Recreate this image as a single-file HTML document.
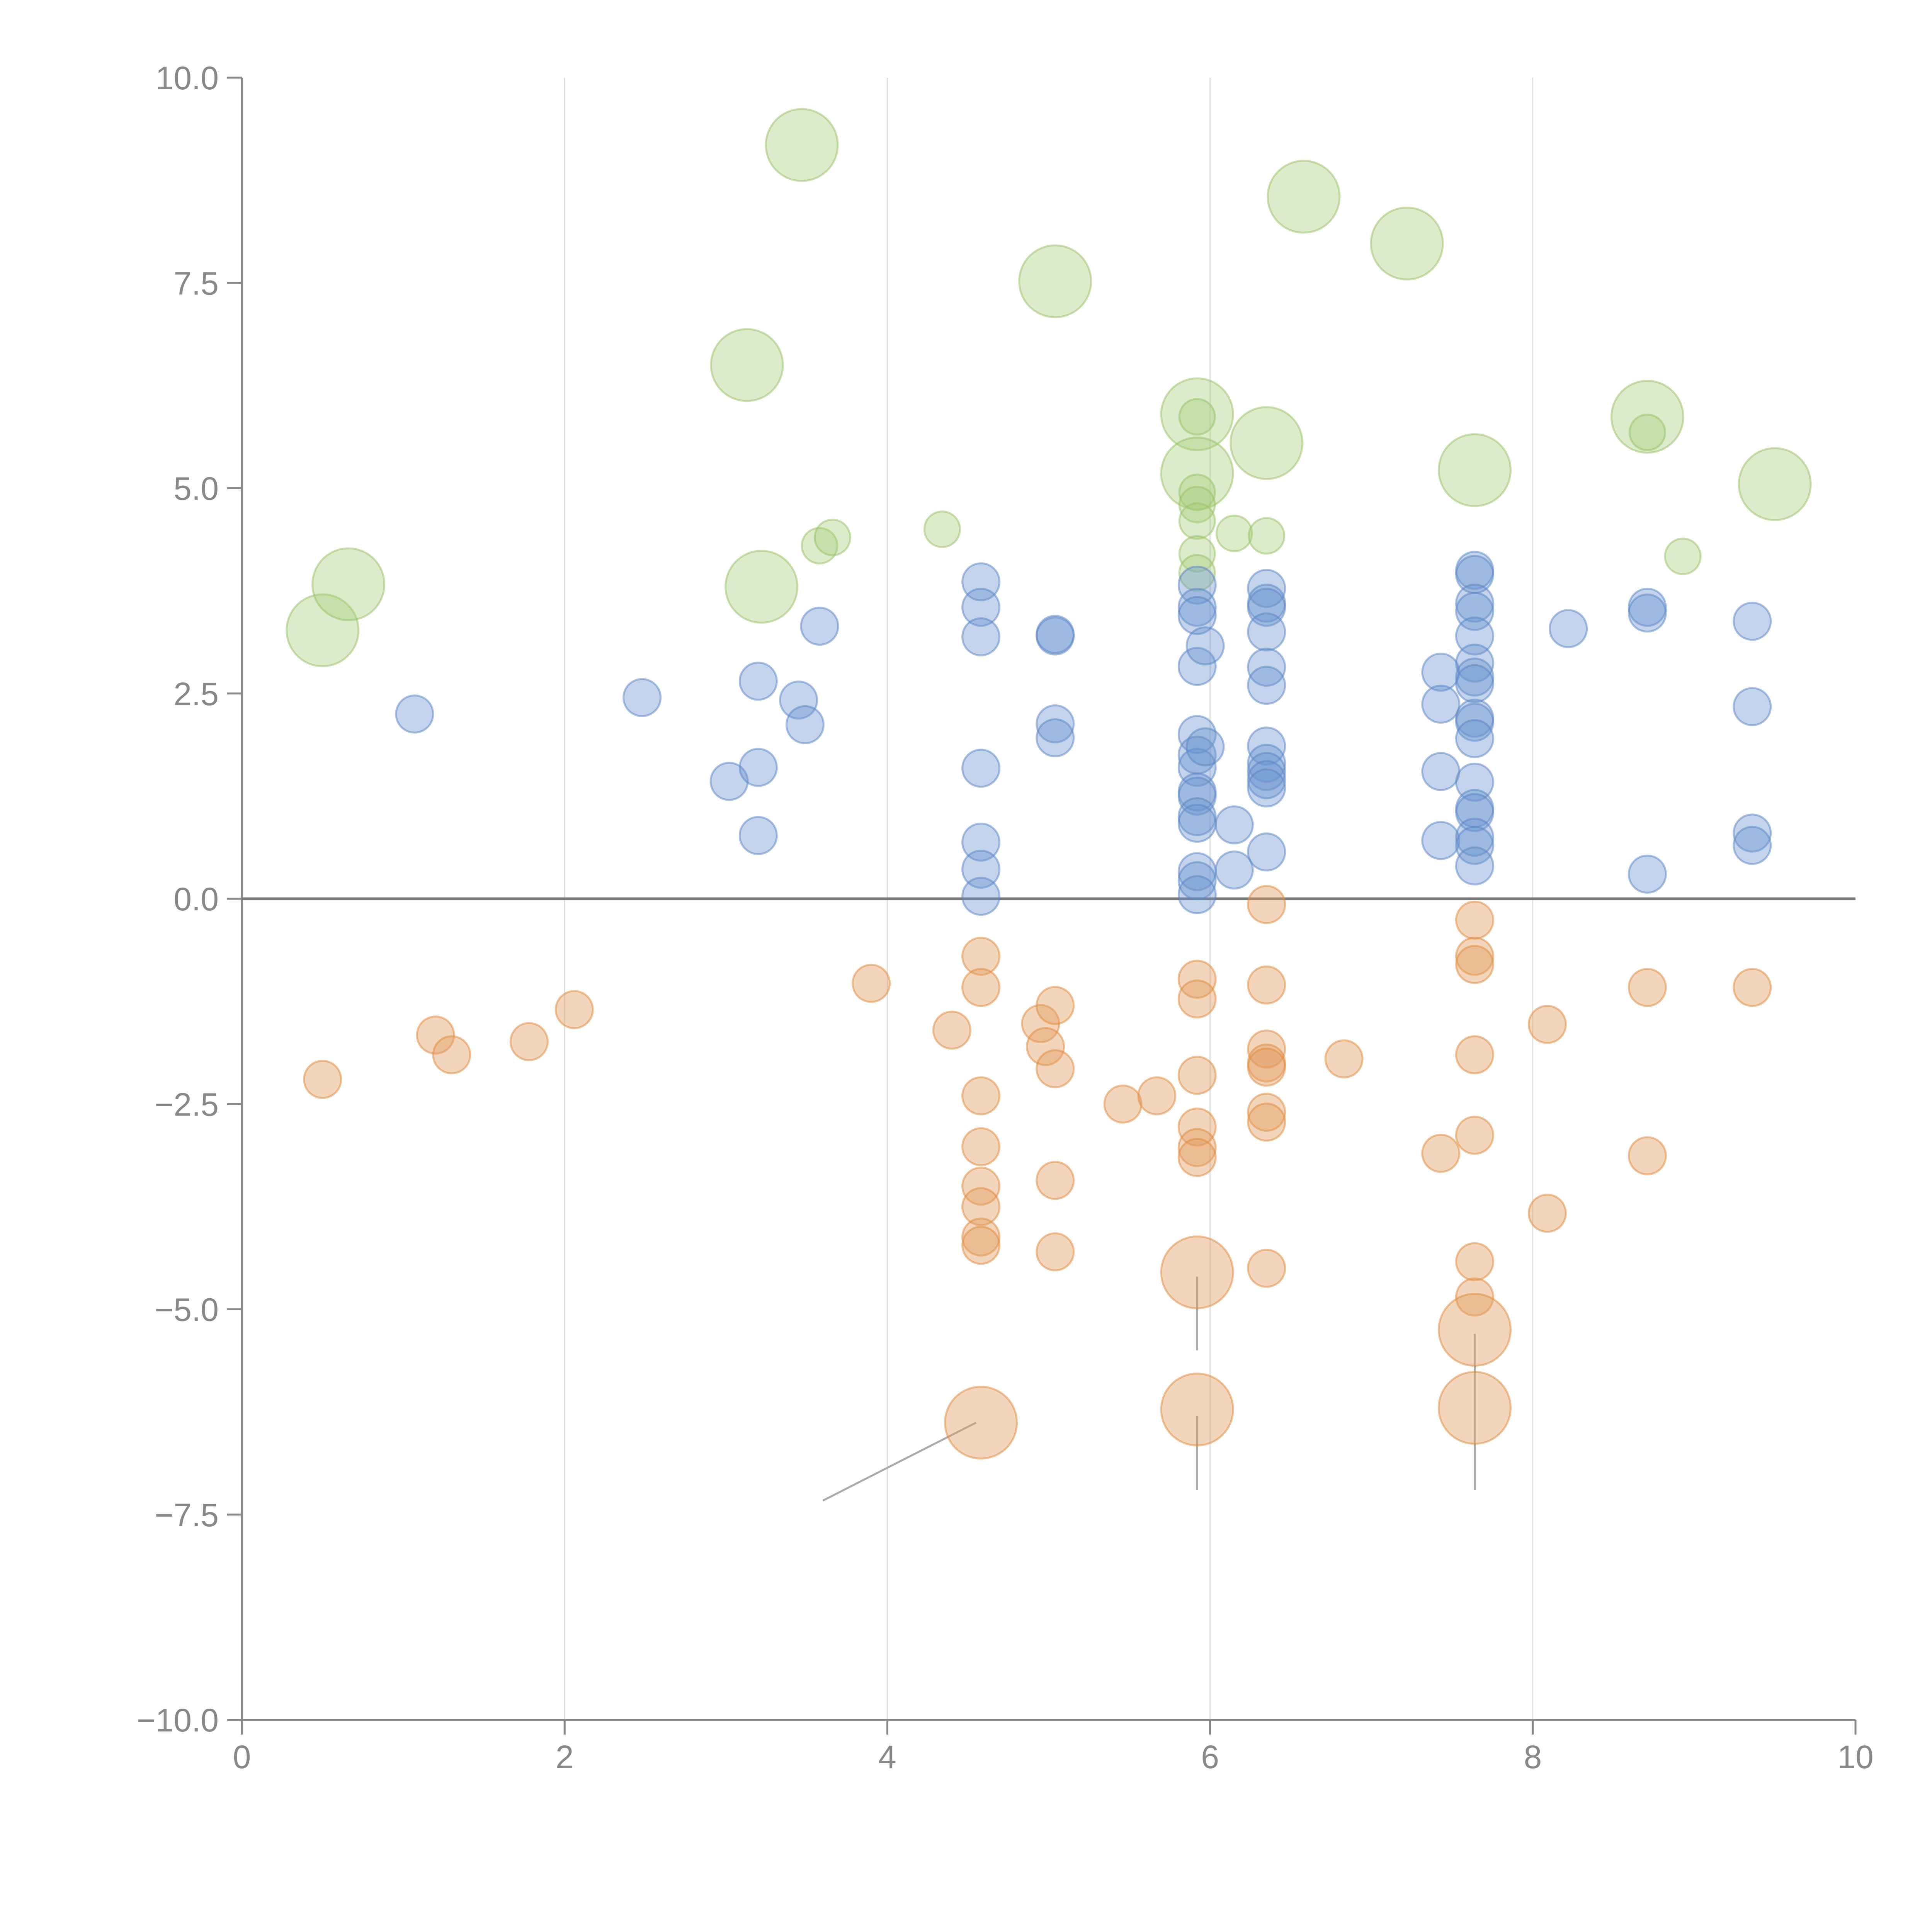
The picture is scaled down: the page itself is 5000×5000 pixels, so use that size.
<!DOCTYPE html>
<html><head><meta charset="utf-8"><style>
html,body{margin:0;padding:0;background:#fff}
svg{display:block}
text{font-family:"Liberation Sans",sans-serif;fill:#888}
</style></head><body>
<svg id="chart" width="5000" height="5000" viewBox="0 0 5000 5000">
<g id="grid"></g>
<g id="axes"></g>
<g id="leaders"></g>
<g id="marks"></g>
</svg>
<script>
const xTicks=[0,2,4,6,8,10];
const yTicks=[-10,-7.5,-5,-2.5,0,2.5,5,7.5,10];
const yTickLabels=["\u221210.0","\u22127.5","\u22125.0","\u22122.5","0.0","2.5","5.0","7.5","10.0"];
const blueX=[1.07,2.48,3.2,3.45,3.49,3.02,3.2,3.2,3.58,4.58,4.58,4.58,4.58,4.58,4.58,4.58,5.04,5.04,5.04,5.04,5.92,5.92,5.92,5.92,5.92,5.92,5.92,5.92,5.92,5.92,5.92,5.92,5.92,5.92,5.97,5.97,6.15,6.15,6.35,6.35,6.35,6.35,6.35,6.35,6.35,6.35,6.35,6.35,6.35,6.35,7.43,7.43,7.43,7.43,7.64,7.64,7.64,7.64,7.64,7.64,7.64,7.64,7.64,7.64,7.64,7.64,7.64,7.64,7.64,7.64,7.64,8.22,8.71,8.71,8.71,9.36,9.36,9.36,9.36];
const blueY=[2.25,2.45,2.65,2.42,2.12,1.43,1.6,0.77,3.32,3.86,3.55,3.19,1.59,0.69,0.36,0.03,3.2,3.22,2.13,1.96,3.82,3.55,3.45,2.83,2.0,1.75,1.6,1.3,1.25,1.0,0.92,0.33,0.22,0.05,3.08,1.85,0.9,0.35,3.78,3.6,3.55,3.25,2.82,2.6,1.86,1.65,1.55,1.45,1.35,0.57,2.76,2.37,1.55,0.71,4.0,3.95,3.6,3.5,3.2,2.87,2.7,2.62,2.2,2.15,1.95,1.42,1.1,1.05,0.75,0.65,0.4,3.29,3.55,3.48,0.3,3.38,2.34,0.8,0.65];
const orangeX=[0.5,1.2,1.3,1.78,2.06,3.9,4.4,4.58,4.58,4.58,4.58,4.58,4.58,4.58,4.58,4.95,4.98,5.04,5.04,5.04,5.04,5.46,5.67,5.92,5.92,5.92,5.92,5.92,5.92,6.35,6.35,6.35,6.35,6.35,6.35,6.35,6.35,6.83,7.43,7.64,7.64,7.64,7.64,7.64,7.64,7.64,8.09,8.09,8.71,8.71,9.36];
const orangeY=[-2.2,-1.66,-1.9,-1.74,-1.35,-1.03,-1.6,-0.7,-1.08,-2.4,-3.02,-3.5,-3.75,-4.12,-4.22,-1.52,-1.8,-1.3,-2.07,-3.43,-4.3,-2.5,-2.4,-0.98,-1.22,-2.15,-2.78,-3.03,-3.15,-0.07,-1.05,-1.83,-2.0,-2.05,-2.6,-2.72,-4.5,-1.95,-3.1,-0.26,-0.7,-0.8,-1.9,-2.88,-4.42,-4.85,-1.53,-3.83,-1.08,-3.13,-1.08];
const orangeBigX=[4.58,5.92,5.92,7.64,7.64];
const orangeBigY=[-6.38,-4.55,-6.22,-5.25,-6.2];
const greenBigX=[0.5,0.66,3.13,3.47,3.22,5.04,5.92,5.92,6.35,6.58,7.22,7.64,8.71,9.5];
const greenBigY=[3.27,3.83,6.5,9.18,3.8,7.52,5.9,5.18,5.55,8.55,7.98,5.22,5.87,5.05];
const greenX=[3.58,3.66,4.34,5.92,5.92,5.92,5.92,5.92,5.92,6.15,6.35,8.71,8.93];
const greenY=[4.3,4.4,4.5,5.87,4.95,4.8,4.6,4.2,3.97,4.45,4.42,5.68,4.17];

const X0=626,X1=4802,Y0=4451,Y1=201;
const sx=v=>X0+(v-0)/(10-0)*(X1-X0);
const sy=v=>Y0-(v+10)/20*(Y0-Y1);
const NS="http://www.w3.org/2000/svg";
function mk(tag,parent,attrs){const e=document.createElementNS(NS,tag);for(const k in attrs)e.setAttribute(k,attrs[k]);parent.appendChild(e);return e;}
const grid=document.getElementById('grid'),axes=document.getElementById('axes'),marks=document.getElementById('marks'),lead=document.getElementById('leaders');

[2,4,6,8].forEach(t=>{const l=mk('line',grid,{x1:sx(t),x2:sx(t),y1:Y1,y2:Y0,stroke:'#ddd','stroke-width':3});

});

let a=mk('line',axes,{x1:X0,x2:X0,y1:Y1,y2:Y0,stroke:'#888','stroke-width':5});


a=mk('line',axes,{x1:X0,x2:X1,y1:Y0,y2:Y0,stroke:'#888','stroke-width':5});


a=mk('line',axes,{x1:X0,x2:X1,y1:sy(0),y2:sy(0),stroke:'#777','stroke-width':7});



yTicks.forEach((t,i)=>{
 const tk=mk('line',axes,{x1:X0-38,x2:X0,y1:sy(t),y2:sy(t),stroke:'#888','stroke-width':5});
 
 
 const tx=mk('text',axes,{x:X0-60,y:sy(t)+30,'text-anchor':'end','font-size':84});
 tx.textContent=yTickLabels[i];
 
 
});
xTicks.forEach(t=>{
 const tk=mk('line',axes,{x1:sx(t),x2:sx(t),y1:Y0,y2:Y0+38,stroke:'#888','stroke-width':5});
 
 
 const tx=mk('text',axes,{x:sx(t),y:Y0+125,'text-anchor':'middle','font-size':84});
 tx.textContent=String(t);
 
 
});

function bubbles(xs,ys,r,fill,stroke,op,name){
 xs.forEach((x,i)=>{
  const c=mk('circle',marks,{cx:sx(x),cy:sy(ys[i]),r:r,fill:fill,'fill-opacity':op,stroke:stroke,'stroke-opacity':0.5,'stroke-width':5});
  
  
 });
}
bubbles(greenBigX,greenBigY,93,'#a8cc7a','#98c066',0.4,'bubble-green-large');
bubbles(greenX,greenY,46,'#a8cc7a','#98c066',0.4,'bubble-green');
bubbles(blueX,blueY,48,'#6a93d0','#5a84c4',0.4,'bubble-blue');
bubbles(orangeX,orangeY,48,'#e39a5c','#e08a3c',0.42,'bubble-orange');
bubbles(orangeBigX,orangeBigY,93,'#e39a5c','#e08a3c',0.42,'bubble-orange-large');

const leadX1=[4.55,5.92,5.92,7.64];
const leadY1=[-6.38,-4.6,-6.3,-5.3];
const leadX2=[3.6,5.92,5.92,7.64];
const leadY2=[-7.33,-5.5,-7.2,-7.2];
leadX1.forEach((x,i)=>{
 const l=mk('line',lead,{x1:sx(x),y1:sy(leadY1[i]),x2:sx(leadX2[i]),y2:sy(leadY2[i]),stroke:'#aaa','stroke-width':5});
 
 
});
</script>
</body></html>
